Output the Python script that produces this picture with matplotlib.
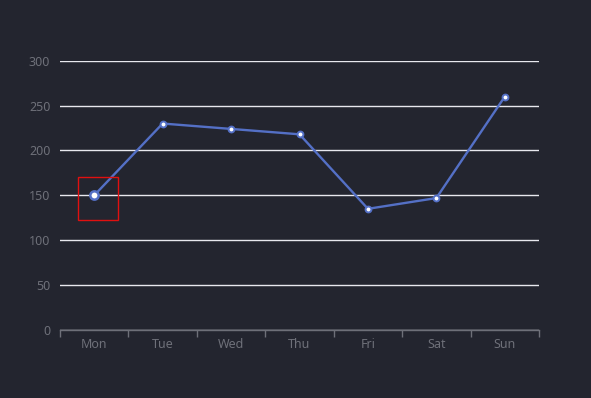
import matplotlib
matplotlib.use("Agg")
import matplotlib.pyplot as plt
import matplotlib.transforms as mtransforms
from matplotlib.patches import Rectangle

# data
days = ['Mon', 'Tue', 'Wed', 'Thu', 'Fri', 'Sat', 'Sun']
values = [150, 230, 224, 218, 135, 147, 260]
y_ticks = [0, 50, 100, 150, 200, 250, 300]

bg = '#23252f'
line_color = '#5470c6'
label_color = '#6e7079'

plt.rcParams['font.family'] = ['Noto Sans', 'DejaVu Sans']

fig = plt.figure(figsize=(5.91, 3.98), dpi=100, facecolor=bg)
ax = fig.add_axes([60 / 591, 68 / 398, 479 / 591, 269.3 / 398])
ax.set_facecolor(bg)

x = list(range(len(days)))
ax.plot(x, values, color=line_color, linewidth=1.7, zorder=3)
ax.plot(x[1:], values[1:], linestyle='none', marker='o', markersize=4.2,
        markerfacecolor='white', markeredgecolor=line_color, markeredgewidth=1.4, zorder=4)
# highlighted first point
ax.plot(x[:1], values[:1], linestyle='none', marker='o', markersize=6,
        markerfacecolor='white', markeredgecolor=line_color, markeredgewidth=1.8, zorder=4)

# red box around the highlighted point (offsets in pixels)
box = Rectangle((0, 0), 40, 43, fill=False, edgecolor='#e01010', linewidth=1,
                transform=mtransforms.Affine2D().translate(-16, -25) +
                mtransforms.ScaledTranslation(x[0], values[0], ax.transData),
                zorder=5, clip_on=False)
ax.add_artist(box)

ax.set_xlim(-0.5, len(days) - 0.5)
ax.set_ylim(0, 300)
ax.set_yticks(y_ticks)
ax.yaxis.grid(True, color='#e8e8ee', linewidth=1)
ax.set_axisbelow(True)

# category ticks on boundaries, labels in centers
ax.set_xticks([i - 0.5 for i in range(len(days) + 1)])
ax.set_xticklabels([])
ax.set_xticks(x, minor=True)
ax.set_xticklabels(days, minor=True)
ax.tick_params(axis='x', which='major', length=5, color=label_color, width=1, direction='out')
ax.tick_params(axis='x', which='minor', length=0, pad=6, labelsize=9, labelcolor=label_color)
ax.tick_params(axis='y', length=0, pad=7, labelsize=9, labelcolor=label_color)

for s in ['top', 'right', 'left']:
    ax.spines[s].set_visible(False)
ax.spines['bottom'].set_color(label_color)
ax.spines['bottom'].set_linewidth(1)

fig.savefig('out.png', dpi=100, facecolor=bg)
